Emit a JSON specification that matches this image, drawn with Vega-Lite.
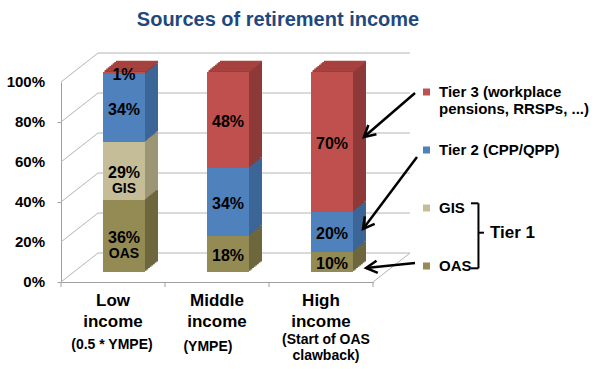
{
 "$schema": "https://vega.github.io/schema/vega-lite/v6.json",
 "width": 312,
 "height": 200,
 "autosize": {"type": "none"},
 "padding": {"left": 61, "top": 82, "right": 227, "bottom": 87},
 "background": "white",
 "config": {"view": {"stroke": null}, "font": "Liberation Sans"},
 "title": {"text": "Sources of retirement income", "font": "Liberation Sans", "fontSize": 20, "fontWeight": "bold", "color": "#1F497D", "anchor": "middle", "frame": "group", "dx": 61, "baseline": "alphabetic", "offset": 7},
 "datasets": {
  "bars": [
   {"income": "Low", "source": "OAS", "k": 1, "value": 36},
   {"income": "Low", "source": "GIS", "k": 2, "value": 29},
   {"income": "Low", "source": "Tier 2", "k": 3, "value": 34},
   {"income": "Low", "source": "Tier 3", "k": 4, "value": 1},
   {"income": "Middle", "source": "OAS", "k": 1, "value": 18},
   {"income": "Middle", "source": "Tier 2", "k": 3, "value": 34},
   {"income": "Middle", "source": "Tier 3", "k": 4, "value": 48},
   {"income": "High", "source": "OAS", "k": 1, "value": 10},
   {"income": "High", "source": "Tier 2", "k": 3, "value": 20},
   {"income": "High", "source": "Tier 3", "k": 4, "value": 70}
  ],
  "ticks": [{"t": 0}, {"t": 20}, {"t": 40}, {"t": 60}, {"t": 80}, {"t": 100}],
  "cats": [{"income": "Low"}, {"income": "Middle"}, {"income": "High"}],
  "one": [{}]
 },
 "layer": [
  {"data": {"name": "ticks"}, "mark": {"type": "rule", "color": "#B4B4B4", "strokeWidth": 1, "xOffset": 37, "x2Offset": 37, "yOffset": -29, "y2Offset": -29},
   "encoding": {
    "x": {"datum": "Low", "type": "nominal", "bandPosition": 0, "title": null,
     "scale": {"domain": ["Low", "Middle", "High"], "paddingInner": 0, "paddingOuter": 0},
     "axis": {"title": null, "bandPosition": 0.5, "domainColor": "#A0A0A0", "ticks": false, "labelAngle": 0, "labelAlign": "center", "labelFont": "Liberation Sans", "labelFontSize": 17, "labelFontWeight": "bold", "labelColor": "#000000", "labelPadding": 10, "labelLineHeight": 21, "labelBaseline": "top", "labelExpr": "[datum.value, 'income']"}},
    "x2": {"datum": "High", "bandPosition": 1},
    "y": {"field": "t", "type": "quantitative", "title": null, "scale": {"domain": [0, 100], "nice": false},
     "axis": {"title": null, "values": [0, 20, 40, 60, 80, 100], "labels": false, "grid": false, "domainColor": "#A0A0A0", "tickColor": "#A0A0A0", "tickSize": 4}},
    "y2": {"field": "t"}}},
  {"data": {"name": "ticks"}, "mark": {"type": "rule", "color": "#B4B4B4", "strokeWidth": 1, "x2Offset": 37, "y2Offset": -29},
   "encoding": {"x": {"datum": "Low", "type": "nominal", "bandPosition": 0, "title": null}, "x2": {"datum": "Low", "bandPosition": 0}, "y": {"field": "t", "type": "quantitative", "title": null}, "y2": {"field": "t"}}},
  {"data": {"name": "ticks"}, "transform": [{"calculate": "datum.t + '%'", "as": "lbl"}],
   "mark": {"type": "text", "align": "right", "baseline": "middle", "xOffset": -16, "fontSize": 15, "fontWeight": "bold", "color": "#000000"},
   "encoding": {"x": {"datum": "Low", "type": "nominal", "bandPosition": 0, "title": null}, "y": {"field": "t", "type": "quantitative", "title": null}, "text": {"field": "lbl"}}},
  {"data": {"name": "one"}, "mark": {"type": "rule", "color": "#B4B4B4", "strokeWidth": 1, "x2Offset": 37, "y2Offset": -29},
   "encoding": {"x": {"datum": "High", "type": "nominal", "bandPosition": 1, "title": null}, "x2": {"datum": "High", "bandPosition": 1}, "y": {"datum": 0, "type": "quantitative", "title": null}, "y2": {"datum": 0}}},
  {"data": {"name": "cats"}, "mark": {"type": "rule", "color": "#A0A0A0", "strokeWidth": 1},
   "encoding": {"x": {"field": "income", "type": "nominal", "bandPosition": 0, "title": null}, "y": {"datum": 0, "type": "quantitative", "title": null}, "y2": {"datum": -2.5}}},
  {"data": {"name": "one"}, "mark": {"type": "rule", "color": "#A0A0A0", "strokeWidth": 1},
   "encoding": {"x": {"datum": "High", "type": "nominal", "bandPosition": 1, "title": null}, "y": {"datum": 0, "type": "quantitative", "title": null}, "y2": {"datum": -2.5}}},
  {
   "data": {"name": "bars"},
   "transform": [
    {"stack": "value", "groupby": ["income"], "sort": [{"field": "k", "order": "ascending"}], "as": ["y0", "y1"]},
    {"calculate": "(datum.y0 + datum.y1) / 2", "as": "mid"},
    {"calculate": "datum.value + '%'", "as": "pct"}
   ],
   "encoding": {"x": {"field": "income", "type": "nominal", "title": null}},
   "layer": [
    {"mark": {"type": "bar", "width": 42, "xOffset": 24, "yOffset": -20.5, "y2Offset": -20.5}, "encoding": {"y": {"field": "y0", "type": "quantitative", "title": null}, "y2": {"field": "y1"}, "fill": {"condition": [{"test": "datum.source == 'Tier 3'", "value": "#8E3A38"}, {"test": "datum.source == 'Tier 2'", "value": "#3B6696"}, {"test": "datum.source == 'GIS'", "value": "#9C9675"}], "value": "#6E673E"}}},
    {"mark": {"type": "bar", "width": 42, "xOffset": 22.375, "yOffset": -19.1875, "y2Offset": -19.1875}, "encoding": {"y": {"field": "y0", "type": "quantitative", "title": null}, "y2": {"field": "y1"}, "fill": {"condition": [{"test": "datum.source == 'Tier 3'", "value": "#8E3A38"}, {"test": "datum.source == 'Tier 2'", "value": "#3B6696"}, {"test": "datum.source == 'GIS'", "value": "#9C9675"}], "value": "#6E673E"}}},
    {"mark": {"type": "bar", "width": 42, "xOffset": 20.75, "yOffset": -17.875, "y2Offset": -17.875}, "encoding": {"y": {"field": "y0", "type": "quantitative", "title": null}, "y2": {"field": "y1"}, "fill": {"condition": [{"test": "datum.source == 'Tier 3'", "value": "#8E3A38"}, {"test": "datum.source == 'Tier 2'", "value": "#3B6696"}, {"test": "datum.source == 'GIS'", "value": "#9C9675"}], "value": "#6E673E"}}},
    {"mark": {"type": "bar", "width": 42, "xOffset": 19.125, "yOffset": -16.5625, "y2Offset": -16.5625}, "encoding": {"y": {"field": "y0", "type": "quantitative", "title": null}, "y2": {"field": "y1"}, "fill": {"condition": [{"test": "datum.source == 'Tier 3'", "value": "#8E3A38"}, {"test": "datum.source == 'Tier 2'", "value": "#3B6696"}, {"test": "datum.source == 'GIS'", "value": "#9C9675"}], "value": "#6E673E"}}},
    {"mark": {"type": "bar", "width": 42, "xOffset": 17.5, "yOffset": -15.25, "y2Offset": -15.25}, "encoding": {"y": {"field": "y0", "type": "quantitative", "title": null}, "y2": {"field": "y1"}, "fill": {"condition": [{"test": "datum.source == 'Tier 3'", "value": "#8E3A38"}, {"test": "datum.source == 'Tier 2'", "value": "#3B6696"}, {"test": "datum.source == 'GIS'", "value": "#9C9675"}], "value": "#6E673E"}}},
    {"mark": {"type": "bar", "width": 42, "xOffset": 15.875, "yOffset": -13.9375, "y2Offset": -13.9375}, "encoding": {"y": {"field": "y0", "type": "quantitative", "title": null}, "y2": {"field": "y1"}, "fill": {"condition": [{"test": "datum.source == 'Tier 3'", "value": "#8E3A38"}, {"test": "datum.source == 'Tier 2'", "value": "#3B6696"}, {"test": "datum.source == 'GIS'", "value": "#9C9675"}], "value": "#6E673E"}}},
    {"mark": {"type": "bar", "width": 42, "xOffset": 14.25, "yOffset": -12.625, "y2Offset": -12.625}, "encoding": {"y": {"field": "y0", "type": "quantitative", "title": null}, "y2": {"field": "y1"}, "fill": {"condition": [{"test": "datum.source == 'Tier 3'", "value": "#8E3A38"}, {"test": "datum.source == 'Tier 2'", "value": "#3B6696"}, {"test": "datum.source == 'GIS'", "value": "#9C9675"}], "value": "#6E673E"}}},
    {"mark": {"type": "bar", "width": 42, "xOffset": 12.625, "yOffset": -11.3125, "y2Offset": -11.3125}, "encoding": {"y": {"field": "y0", "type": "quantitative", "title": null}, "y2": {"field": "y1"}, "fill": {"condition": [{"test": "datum.source == 'Tier 3'", "value": "#8E3A38"}, {"test": "datum.source == 'Tier 2'", "value": "#3B6696"}, {"test": "datum.source == 'GIS'", "value": "#9C9675"}], "value": "#6E673E"}}},
    {"transform": [{"filter": "datum.source == 'Tier 3'"}], "mark": {"type": "bar", "width": 42, "xOffset": 24, "yOffset": -20.5, "y2Offset": -20.5, "fill": "#A8423F", "stroke": "#A8423F", "strokeWidth": 1.6}, "encoding": {"y": {"field": "y1", "type": "quantitative", "title": null}, "y2": {"field": "y1"}}},
    {"transform": [{"filter": "datum.source == 'Tier 3'"}], "mark": {"type": "bar", "width": 42, "xOffset": 22.375, "yOffset": -19.1875, "y2Offset": -19.1875, "fill": "#A8423F", "stroke": "#A8423F", "strokeWidth": 1.6}, "encoding": {"y": {"field": "y1", "type": "quantitative", "title": null}, "y2": {"field": "y1"}}},
    {"transform": [{"filter": "datum.source == 'Tier 3'"}], "mark": {"type": "bar", "width": 42, "xOffset": 20.75, "yOffset": -17.875, "y2Offset": -17.875, "fill": "#A8423F", "stroke": "#A8423F", "strokeWidth": 1.6}, "encoding": {"y": {"field": "y1", "type": "quantitative", "title": null}, "y2": {"field": "y1"}}},
    {"transform": [{"filter": "datum.source == 'Tier 3'"}], "mark": {"type": "bar", "width": 42, "xOffset": 19.125, "yOffset": -16.5625, "y2Offset": -16.5625, "fill": "#A8423F", "stroke": "#A8423F", "strokeWidth": 1.6}, "encoding": {"y": {"field": "y1", "type": "quantitative", "title": null}, "y2": {"field": "y1"}}},
    {"transform": [{"filter": "datum.source == 'Tier 3'"}], "mark": {"type": "bar", "width": 42, "xOffset": 17.5, "yOffset": -15.25, "y2Offset": -15.25, "fill": "#A8423F", "stroke": "#A8423F", "strokeWidth": 1.6}, "encoding": {"y": {"field": "y1", "type": "quantitative", "title": null}, "y2": {"field": "y1"}}},
    {"transform": [{"filter": "datum.source == 'Tier 3'"}], "mark": {"type": "bar", "width": 42, "xOffset": 15.875, "yOffset": -13.9375, "y2Offset": -13.9375, "fill": "#A8423F", "stroke": "#A8423F", "strokeWidth": 1.6}, "encoding": {"y": {"field": "y1", "type": "quantitative", "title": null}, "y2": {"field": "y1"}}},
    {"transform": [{"filter": "datum.source == 'Tier 3'"}], "mark": {"type": "bar", "width": 42, "xOffset": 14.25, "yOffset": -12.625, "y2Offset": -12.625, "fill": "#A8423F", "stroke": "#A8423F", "strokeWidth": 1.6}, "encoding": {"y": {"field": "y1", "type": "quantitative", "title": null}, "y2": {"field": "y1"}}},
    {"transform": [{"filter": "datum.source == 'Tier 3'"}], "mark": {"type": "bar", "width": 42, "xOffset": 12.625, "yOffset": -11.3125, "y2Offset": -11.3125, "fill": "#A8423F", "stroke": "#A8423F", "strokeWidth": 1.6}, "encoding": {"y": {"field": "y1", "type": "quantitative", "title": null}, "y2": {"field": "y1"}}},
    {"mark": {"type": "bar", "width": 42, "xOffset": 11, "yOffset": -10, "y2Offset": -10},
     "encoding": {
      "y": {"field": "y0", "type": "quantitative", "title": null},
      "y2": {"field": "y1"},
      "color": {"field": "source", "type": "nominal", "scale": {"domain": ["Tier 3", "Tier 2", "GIS", "OAS"], "range": ["#C0504D", "#4F81BD", "#C4BD97", "#948A54"]},
       "legend": {"orient": "none", "legendX": 358, "legendY": 2.5, "title": null, "symbolType": "square", "symbolSize": 49, "symbolStrokeWidth": 0, "labelFont": "Liberation Sans", "labelFontSize": 15, "labelFontWeight": "bold", "labelColor": "#000000", "labelLimit": 300, "labelOffset": 5, "labelLineHeight": 19, "labelBaseline": "middle", "gridAlign": "all", "rowPadding": 25, "padding": 0,
        "labelExpr": "datum.label == 'Tier 3' ? ['Tier 3 (workplace', 'pensions, RRSPs, ...)'] : datum.label == 'Tier 2' ? 'Tier 2 (CPP/QPP)' : datum.label"}}
     }},
    {"mark": {"type": "text", "xOffset": 11, "yOffset": -8, "fontSize": 16, "fontWeight": "bold", "color": "#000000"},
     "encoding": {"y": {"field": "mid", "type": "quantitative", "title": null}, "text": {"field": "pct"}}},
    {"transform": [{"filter": "datum.income == 'Low' && (datum.source == 'OAS' || datum.source == 'GIS')"}],
     "mark": {"type": "text", "xOffset": 11, "yOffset": 8, "fontSize": 14, "fontWeight": "bold", "color": "#000000"},
     "encoding": {"y": {"field": "mid", "type": "quantitative", "title": null}, "text": {"field": "source"}}}
   ]
  },
  {"data": {"name": "one"}, "mark": {"type": "text", "fontSize": 14, "fontWeight": "bold", "align": "center", "baseline": "middle", "color": "#000000"},
   "encoding": {"x": {"datum": "Low", "type": "nominal", "bandPosition": 0.49, "title": null}, "y": {"datum": -31.5, "type": "quantitative", "title": null}, "text": {"value": "(0.5 * YMPE)"}}},
  {"data": {"name": "one"}, "mark": {"type": "text", "fontSize": 14, "fontWeight": "bold", "align": "center", "baseline": "middle", "color": "#000000"},
   "encoding": {"x": {"datum": "Middle", "type": "nominal", "bandPosition": 0.413, "title": null}, "y": {"datum": -32.5, "type": "quantitative", "title": null}, "text": {"value": "(YMPE)"}}},
  {"data": {"name": "one"}, "mark": {"type": "text", "fontSize": 14, "fontWeight": "bold", "align": "center", "baseline": "middle", "lineHeight": 16, "color": "#000000"},
   "encoding": {"x": {"datum": "High", "type": "nominal", "bandPosition": 0.548, "title": null}, "y": {"datum": -29, "type": "quantitative", "title": null}, "text": {"value": ["(Start of OAS", "clawback)"]}}},
  {"data": {"name": "one"}, "mark": {"type": "rule", "color": "#000000", "strokeWidth": 2},
   "encoding": {"x": {"datum": "High", "type": "nominal", "bandPosition": 2.014, "title": null}, "x2": {"datum": "High", "bandPosition": 2.014}, "y": {"datum": 39.35, "type": "quantitative", "title": null}, "y2": {"datum": 6.85}}},
  {"data": {"name": "one"}, "mark": {"type": "rule", "color": "#000000", "strokeWidth": 2},
   "encoding": {"x": {"datum": "High", "type": "nominal", "bandPosition": 1.942, "title": null}, "x2": {"datum": "High", "bandPosition": 2.014}, "y": {"datum": 39.35, "type": "quantitative", "title": null}, "y2": {"datum": 39.35}}},
  {"data": {"name": "one"}, "mark": {"type": "rule", "color": "#000000", "strokeWidth": 2},
   "encoding": {"x": {"datum": "High", "type": "nominal", "bandPosition": 1.942, "title": null}, "x2": {"datum": "High", "bandPosition": 2.014}, "y": {"datum": 6.85, "type": "quantitative", "title": null}, "y2": {"datum": 6.85}}},
  {"data": {"name": "one"}, "mark": {"type": "rule", "color": "#000000", "strokeWidth": 2},
   "encoding": {"x": {"datum": "High", "type": "nominal", "bandPosition": 2.014, "title": null}, "x2": {"datum": "High", "bandPosition": 2.067}, "y": {"datum": 24.65, "type": "quantitative", "title": null}, "y2": {"datum": 24.65}}},
  {"data": {"name": "one"}, "mark": {"type": "text", "fontSize": 17, "fontWeight": "bold", "align": "left", "baseline": "middle", "color": "#000000"},
   "encoding": {"x": {"datum": "High", "type": "nominal", "bandPosition": 2.125, "title": null}, "y": {"datum": 24.65, "type": "quantitative", "title": null}, "text": {"value": "Tier 1"}}},
  {"data": {"name": "one"}, "mark": {"type": "rule", "color": "#000000", "strokeWidth": 2.5},
   "encoding": {"x": {"datum": "High", "type": "nominal", "bandPosition": 1.404, "title": null}, "x2": {"datum": "High", "bandPosition": 0.913}, "y": {"datum": 94.5, "type": "quantitative", "title": null}, "y2": {"datum": 72.5}}},
  {"data": {"name": "one"}, "mark": {"type": "rule", "color": "#000000", "strokeWidth": 2.5},
   "encoding": {"x": {"datum": "High", "type": "nominal", "bandPosition": 1.423, "title": null}, "x2": {"datum": "High", "bandPosition": 0.904}, "y": {"datum": 62.5, "type": "quantitative", "title": null}, "y2": {"datum": 26.5}}},
  {"data": {"name": "one"}, "mark": {"type": "rule", "color": "#000000", "strokeWidth": 2.5},
   "encoding": {"x": {"datum": "High", "type": "nominal", "bandPosition": 1.404, "title": null}, "x2": {"datum": "High", "bandPosition": 0.933}, "y": {"datum": 9.5, "type": "quantitative", "title": null}, "y2": {"datum": 7}}},
  {"data": {"name": "one"}, "mark": {"type": "point", "shape": "M-1,-0.55L0,0L-1,0.55", "filled": false, "stroke": "#000000", "strokeWidth": 2.5, "size": 500, "angle": 139, "opacity": 1},
   "encoding": {"x": {"datum": "High", "type": "nominal", "bandPosition": 0.913, "title": null}, "y": {"datum": 72.5, "type": "quantitative", "title": null}}},
  {"data": {"name": "one"}, "mark": {"type": "point", "shape": "M-1,-0.55L0,0L-1,0.55", "filled": false, "stroke": "#000000", "strokeWidth": 2.5, "size": 500, "angle": 127, "opacity": 1},
   "encoding": {"x": {"datum": "High", "type": "nominal", "bandPosition": 0.904, "title": null}, "y": {"datum": 26.5, "type": "quantitative", "title": null}}},
  {"data": {"name": "one"}, "mark": {"type": "point", "shape": "M-1,-0.55L0,0L-1,0.55", "filled": false, "stroke": "#000000", "strokeWidth": 2.5, "size": 500, "angle": 174, "opacity": 1},
   "encoding": {"x": {"datum": "High", "type": "nominal", "bandPosition": 0.933, "title": null}, "y": {"datum": 7, "type": "quantitative", "title": null}}}
 ]
}
